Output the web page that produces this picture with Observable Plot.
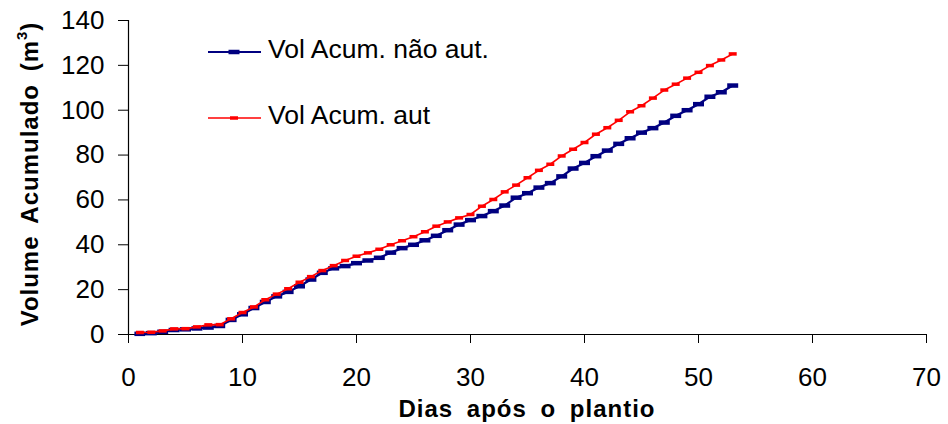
<!DOCTYPE html>
<html>
<head>
<meta charset="utf-8">
<script src="https://cdn.jsdelivr.net/npm/d3@7"></script>
<script src="https://cdn.jsdelivr.net/npm/@observablehq/plot@0.6"></script>
<style>
  body { margin: 0; background: #fff; }
  #wrap { position: relative; width: 948px; height: 424px; }
  #wrap svg { position: absolute; left: 0; top: 0; }
</style>
</head>
<body>
<div id="wrap"></div>
<script>
// Daily readings (days after planting)
const dias = [1, 2, 3, 4, 5, 6, 7, 8, 9, 10, 11, 12, 13, 14, 15, 16, 17, 18, 19, 20,
  21, 22, 23, 24, 25, 26, 27, 28, 29, 30, 31, 32, 33, 34, 35, 36, 37, 38, 39, 40,
  41, 42, 43, 44, 45, 46, 47, 48, 49, 50, 51, 52, 53];

// Accumulated volume (m³), non-automated irrigation
const volNaoAut = [0.3, 0.6, 1.2, 2.0, 2.3, 2.7, 3.1, 3.8, 6.5, 9.0,
  11.8, 14.5, 17.0, 19.0, 21.5, 24.5, 27.5, 29.5, 30.5, 31.8,
  33.0, 34.2, 36.5, 38.5, 40.0, 42.0, 44.0, 46.5, 49.0, 51.0,
  52.8, 55.0, 57.5, 61.0, 63.0, 65.5, 67.5, 70.5, 74.0, 76.5,
  79.5, 82.0, 85.0, 87.5, 90.0, 92.0, 94.5, 97.5, 100.0, 102.7,
  106.0, 108.0, 111.0];

// Accumulated volume (m³), automated irrigation
const volAut = [0.9, 1.0, 1.6, 2.5, 2.6, 3.4, 4.3, 4.4, 7.0, 9.8,
  12.3, 15.5, 18.0, 20.4, 23.3, 25.8, 28.5, 30.7, 33.0, 34.9,
  36.4, 38.0, 40.0, 41.8, 43.6, 45.8, 48.3, 50.2, 52.0, 53.5,
  57.2, 60.2, 63.6, 66.6, 69.9, 73.2, 75.9, 79.6, 82.6, 85.6,
  89.3, 92.2, 95.5, 99.3, 102.0, 105.4, 109.0, 111.6, 114.3, 116.9,
  119.9, 122.4, 125.1];

const xTicks = [0, 10, 20, 30, 40, 50, 60, 70];
const yTicks = [0, 20, 40, 60, 80, 100, 120, 140];
const serieNomes = ["Vol Acum. não aut.", "Vol Acum. aut"];
const cores = ["#000080", "#ff0000"];
const xTitulo = "Dias após o plantio";
const yTitulo = "Volume Acumulado (m";
const yTituloExp = "3";

const naoAut = dias.map((d, i) => ({dia: d, vol: volNaoAut[i]}));
const aut = dias.map((d, i) => ({dia: d, vol: volAut[i]}));

// Horizontal dash marker, like the spreadsheet "dash" point style
const dash = (w, h) => ({
  draw(ctx) {
    ctx.moveTo(-w / 2, -h / 2);
    ctx.lineTo(w / 2, -h / 2);
    ctx.lineTo(w / 2, h / 2);
    ctx.lineTo(-w / 2, h / 2);
    ctx.closePath();
  }
});

const font = "'Liberation Sans', Arial, Helvetica, sans-serif";

const chart = Plot.plot({
  width: 948,
  height: 424,
  marginLeft: 128,
  marginRight: 22,
  marginTop: 20,
  marginBottom: 90,
  x: {domain: [0, 70]},
  y: {domain: [0, 140]},
  style: {fontFamily: font, fontSize: "26px", color: "#000", background: "#fff"},
  marks: [
    Plot.axisX({ticks: xTicks, tickSize: 9, tickPadding: 24, label: null, fontSize: 26, tickFormat: d => String(d)}),
    Plot.axisY({ticks: yTicks, tickSize: 10, tickPadding: 14, label: null, fontSize: 26, tickFormat: d => String(d)}),
    Plot.ruleX([0], {stroke: "#000", strokeWidth: 1.2}),
    Plot.ruleY([0], {stroke: "#000", strokeWidth: 1.2}),
    Plot.line(naoAut, {x: "dia", y: "vol", stroke: cores[0], strokeWidth: 2.2}),
    Plot.dot(naoAut, {x: "dia", y: "vol", r: 4, symbol: dash(11, 4.5), fill: cores[0], stroke: "none"}),
    Plot.line(aut, {x: "dia", y: "vol", stroke: cores[1], strokeWidth: 1.6}),
    Plot.dot(aut, {x: "dia", y: "vol", r: 4, symbol: dash(8, 3.5), fill: cores[1], stroke: "none"})
  ]
});

const wrap = document.getElementById("wrap");
wrap.appendChild(chart);

// Axis titles and legend drawn on an overlay layer
const ns = "http://www.w3.org/2000/svg";
const over = d3.select(wrap).append("svg")
  .attr("xmlns", ns)
  .attr("width", 948).attr("height", 424)
  .style("font-family", font)
  .style("pointer-events", "none");

over.append("text")
  .attr("x", 527).attr("y", 417)
  .attr("text-anchor", "middle")
  .attr("font-size", 24).attr("font-weight", "bold")
  .attr("letter-spacing", 1).attr("word-spacing", 6)
  .text(xTitulo);

const yt = over.append("text")
  .attr("transform", "translate(38,174) rotate(-90)")
  .attr("text-anchor", "middle")
  .attr("font-size", 24).attr("font-weight", "bold")
  .attr("letter-spacing", 1).attr("word-spacing", 5);
yt.append("tspan").text(yTitulo);
yt.append("tspan").attr("dy", -11).attr("font-size", 15).text(yTituloExp);
yt.append("tspan").attr("dy", 11).text(")");

const legendaY = [52, 118];
const legendaMarcador = [dash(11, 4.5), dash(8, 3.5)];
const legendaTraco = [2.2, 1.6];
serieNomes.forEach((nome, i) => {
  const g = over.append("g").attr("transform", `translate(0,${legendaY[i]})`);
  g.append("line").attr("x1", 208).attr("x2", 261).attr("y1", 0).attr("y2", 0)
    .attr("stroke", cores[i]).attr("stroke-width", legendaTraco[i]);
  g.append("path").attr("transform", "translate(234,0)")
    .attr("d", d3.symbol(legendaMarcador[i])()).attr("fill", cores[i]);
  g.append("text").attr("x", 268).attr("y", 6).attr("font-size", 26.5).text(nome);
});
</script>
</body>
</html>
